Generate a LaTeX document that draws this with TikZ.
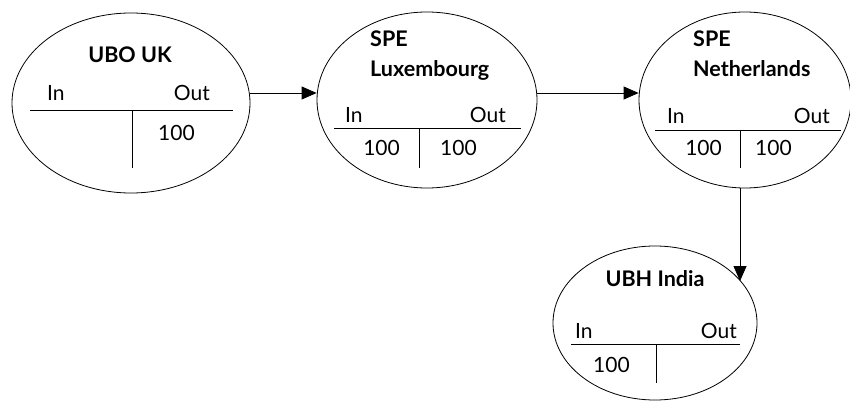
\documentclass[tikz,border=0pt]{standalone}
\usepackage{fontspec}
\setmainfont{Lato}
\usetikzlibrary{shapes.geometric,arrows.meta}
\begin{document}
\begin{tikzpicture}[x=1pt,y=-1pt,
  ent/.style={ellipse,draw,line width=0.8pt,inner sep=0pt},
  lab/.style={font=\fontsize{21}{24}\selectfont,inner sep=0pt},
  ttl/.style={font=\bfseries\fontsize{21.5}{24}\selectfont,inner sep=0pt},
  tline/.style={line width=0.8pt},
  flow/.style={line width=0.8pt,-{Triangle[length=15pt,width=13pt]}}]
\useasboundingbox (0,0) rectangle (850,401);
% entities
\node[ent,minimum width=238pt,minimum height=180pt] (e1) at (131,103) {};
\node[ent,minimum width=220pt,minimum height=176pt] (e2) at (427,100) {};
\node[ent,minimum width=212pt,minimum height=176pt] (e3) at (745,100) {};
\node[ent,minimum width=204pt,minimum height=154pt] (e4) at (655,323) {};
% UBO UK
\node[ttl,anchor=base] (t1) at (130,63) {UBO UK};
\node[lab,anchor=base west] (i1) at (47,101) {In};
\node[lab,anchor=base east] (o1) at (210,101) {Out};
\coordinate (h1a) at (30,110); \coordinate (h1b) at (233,110);
\coordinate (v1a) at (132,110); \coordinate (v1b) at (132,168);
\draw[tline] (h1a) -- (h1b); \draw[tline] (v1a) -- (v1b);
\node[lab,anchor=base west] (n1o) at (158,140) {100};
% SPE Luxembourg
\node[ttl,anchor=base west] (t2a) at (370,47) {SPE};
\node[ttl,anchor=base west] (t2b) at (370,77) {Luxembourg};
\node[lab,anchor=base west] (i2) at (345,122) {In};
\node[lab,anchor=base east] (o2) at (506,122) {Out};
\coordinate (h2a) at (334,128); \coordinate (h2b) at (521,128);
\coordinate (v2a) at (419,128); \coordinate (v2b) at (419,168);
\draw[tline] (h2a) -- (h2b); \draw[tline] (v2a) -- (v2b);
\node[lab,anchor=base east] (n2i) at (400,155) {100};
\node[lab,anchor=base west] (n2o) at (440,155) {100};
% SPE Netherlands
\node[ttl,anchor=base west] (t3a) at (693,47) {SPE};
\node[ttl,anchor=base west] (t3b) at (693,77) {Netherlands};
\node[lab,anchor=base west] (i3) at (667,124) {In};
\node[lab,anchor=base east] (o3) at (830,124) {Out};
\coordinate (h3a) at (655,130); \coordinate (h3b) at (841,130);
\coordinate (v3a) at (740,130); \coordinate (v3b) at (740,168);
\draw[tline] (h3a) -- (h3b); \draw[tline] (v3a) -- (v3b);
\node[lab,anchor=base east] (n3i) at (722,155) {100};
\node[lab,anchor=base west] (n3o) at (755,155) {100};
% UBH India
\node[ttl,anchor=base] (t4) at (655,286) {UBH India};
\node[lab,anchor=base west] (i4) at (575,338) {In};
\node[lab,anchor=base east] (o4) at (737,338) {Out};
\coordinate (h4a) at (571,344); \coordinate (h4b) at (740,344);
\coordinate (v4a) at (656,344); \coordinate (v4b) at (656,383);
\draw[tline] (h4a) -- (h4b); \draw[tline] (v4a) -- (v4b);
\node[lab,anchor=base west] (n4i) at (593,372) {100};
% flows
\coordinate (row) at (0,93);
\coordinate (col) at (740,0);
\draw[flow] (e1.east |- row) -- (e2.west |- row);
\draw[flow] (e2.east |- row) -- (e3.west |- row);
\draw[flow] (e3.south -| col) -- (e4.26.6 -| col);
\end{tikzpicture}
\end{document}
